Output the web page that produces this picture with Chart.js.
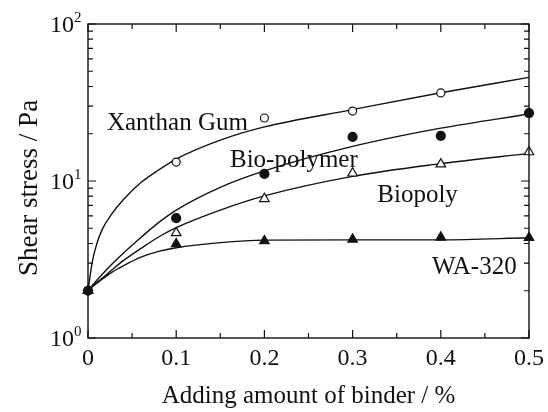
<!DOCTYPE html>
<html>
<head>
<meta charset="utf-8">
<script src="https://cdn.jsdelivr.net/npm/chart.js@4/dist/chart.umd.min.js"></script>
<style>
  html, body { margin: 0; padding: 0; background: #fff; }
  #wrap { width: 548px; height: 412px; }
</style>
</head>
<body>
<div id="wrap"><canvas id="chart" width="548" height="412"></canvas></div>
<script>
// Measured shear stress (Pa) against binder addition (%)
const binderPct  = [0, 0.1, 0.2, 0.3, 0.4, 0.5];
const xanthanGum = [2.0, 13.2, 25.2, 27.9, 36.4, null];
const bioPolymer = [2.0, 5.8, 11.1, 19.1, 19.4, 27.1];
const biopoly    = [2.0, 4.67, 7.7, 11.2, 12.8, 15.3];
const wa320      = [2.0, 3.97, 4.15, 4.25, 4.38, 4.35];

// Fitted trend curves
const fitPct        = [0, 0.005, 0.01, 0.016, 0.027, 0.04, 0.06, 0.08, 0.1, 0.15, 0.2, 0.3, 0.4, 0.5];
const xanthanFit    = [2.0, 3.09, 3.98, 4.9, 6.17, 7.59, 9.77, 11.75, 13.8, 18.2, 22.1, 28.5, 36.5, 45.7];
const bioPolymerFit = [2.0, 2.16, 2.33, 2.54, 2.95, 3.47, 4.37, 5.43, 6.53, 9.12, 11.6, 16.6, 21.7, 26.7];
const biopolyFit    = [2.0, 2.14, 2.25, 2.4, 2.71, 3.11, 3.72, 4.4, 5.05, 6.53, 8.04, 10.7, 12.9, 15.0];
const wa320Fit      = [2.0, 2.12, 2.23, 2.37, 2.62, 2.88, 3.27, 3.56, 3.76, 4.05, 4.2, 4.22, 4.22, 4.35];

// Axis ticks and labels
const xMajorTicks = [0, 0.1, 0.2, 0.3, 0.4, 0.5];
const xTickLabels = ['0', '0.1', '0.2', '0.3', '0.4', '0.5'];
const xMinorTicks = [0.05, 0.15, 0.25, 0.35, 0.45];
const yMajorTicks = [1, 10, 100];
const yExponents  = ['0', '1', '2'];
const yMinorTicks = [2, 3, 4, 5, 6, 7, 8, 9, 20, 30, 40, 50, 60, 70, 80, 90];

const xTitle = 'Adding amount of binder / %';
const yTitle = 'Shear stress / Pa';
const seriesNotes = [
  { text: 'Xanthan Gum', x: 0.0215, y: 21.1 },
  { text: 'Bio-polymer', x: 0.161,  y: 12.3 },
  { text: 'Biopoly',     x: 0.328,  y: 7.35 },
  { text: 'WA-320',      x: 0.390,  y: 2.56 }
];

const SERIF = "'Liberation Serif', 'Times New Roman', serif";
const INK = '#111';

const pts = (xs, ys) => xs.map((x, i) => ({ x: x, y: ys[i] }));

function curve(data) {
  return {
    type: 'line', data: data, borderColor: INK, borderWidth: 1.4,
    pointRadius: 0, fill: false, cubicInterpolationMode: 'monotone', order: 5
  };
}
function marks(data, style, filled, radius) {
  return {
    type: 'scatter', data: data, clip: false, order: filled ? 1 : 2,
    pointStyle: style, pointRadius: radius, pointHoverRadius: radius,
    pointBackgroundColor: filled ? INK : '#fff', pointBorderColor: INK, pointBorderWidth: 1.2
  };
}

const frame = {
  id: 'frame',
  afterDraw(chart) {
    const ctx = chart.ctx;
    const a = chart.chartArea;
    const xs = chart.scales.x, ys = chart.scales.y;
    ctx.save();
    ctx.strokeStyle = INK;
    ctx.fillStyle = INK;
    ctx.lineWidth = 1.4;
    ctx.strokeRect(a.left, a.top, a.right - a.left, a.bottom - a.top);

    // inward ticks on all four sides
    ctx.lineWidth = 1.2;
    ctx.beginPath();
    const xt = (v, len) => {
      const px = xs.getPixelForValue(v);
      ctx.moveTo(px, a.bottom); ctx.lineTo(px, a.bottom - len);
      ctx.moveTo(px, a.top); ctx.lineTo(px, a.top + len);
    };
    const yt = (v, len) => {
      const py = ys.getPixelForValue(v);
      ctx.moveTo(a.left, py); ctx.lineTo(a.left + len, py);
      ctx.moveTo(a.right, py); ctx.lineTo(a.right - len, py);
    };
    xMajorTicks.forEach(v => xt(v, 8));
    xMinorTicks.forEach(v => xt(v, 5));
    yMajorTicks.forEach(v => yt(v, 8));
    yMinorTicks.forEach(v => yt(v, 5));
    ctx.stroke();

    // x tick labels
    ctx.font = '24px ' + SERIF;
    ctx.textAlign = 'center';
    ctx.textBaseline = 'alphabetic';
    xMajorTicks.forEach((v, i) => {
      ctx.fillText(xTickLabels[i], xs.getPixelForValue(v), a.bottom + 27);
    });

    // y tick labels as powers of ten
    yMajorTicks.forEach((v, i) => {
      const py = ys.getPixelForValue(v);
      ctx.font = '24px ' + SERIF;
      ctx.textAlign = 'right';
      ctx.textBaseline = 'middle';
      ctx.fillText('10', a.left - 14, py + 2);
      ctx.font = '15px ' + SERIF;
      ctx.textAlign = 'left';
      ctx.textBaseline = 'alphabetic';
      ctx.fillText(yExponents[i], a.left - 14, py - 2);
    });

    // axis titles
    ctx.font = '25px ' + SERIF;
    ctx.textAlign = 'center';
    ctx.textBaseline = 'alphabetic';
    ctx.fillText(xTitle, (a.left + a.right) / 2, 403);
    ctx.save();
    ctx.translate(37, 188);
    ctx.rotate(-Math.PI / 2);
    ctx.font = '27px ' + SERIF;
    ctx.fillText(yTitle, 0, 0);
    ctx.restore();

    // series names
    ctx.font = '25px ' + SERIF;
    ctx.textAlign = 'left';
    ctx.textBaseline = 'alphabetic';
    seriesNotes.forEach(n => {
      ctx.fillText(n.text, xs.getPixelForValue(n.x), ys.getPixelForValue(n.y));
    });
    ctx.restore();
  }
};

new Chart(document.getElementById('chart'), {
  data: {
    datasets: [
      curve(pts(fitPct, xanthanFit)),
      curve(pts(fitPct, bioPolymerFit)),
      curve(pts(fitPct, biopolyFit)),
      curve(pts(fitPct, wa320Fit)),
      marks(pts(binderPct, xanthanGum), 'circle', false, 4),
      marks(pts(binderPct, bioPolymer), 'circle', true, 4.5),
      marks(pts(binderPct, biopoly), 'triangle', false, 5.5),
      marks(pts(binderPct, wa320), 'triangle', true, 5.5)
    ]
  },
  options: {
    responsive: false,
    animation: false,
    layout: { padding: { left: 88, right: 19, top: 24, bottom: 74 } },
    plugins: { legend: { display: false }, tooltip: { enabled: false } },
    scales: {
      x: { type: 'linear', min: 0, max: 0.5, display: false },
      y: { type: 'logarithmic', min: 1, max: 100, display: false }
    }
  },
  plugins: [frame]
});
</script>
</body>
</html>
